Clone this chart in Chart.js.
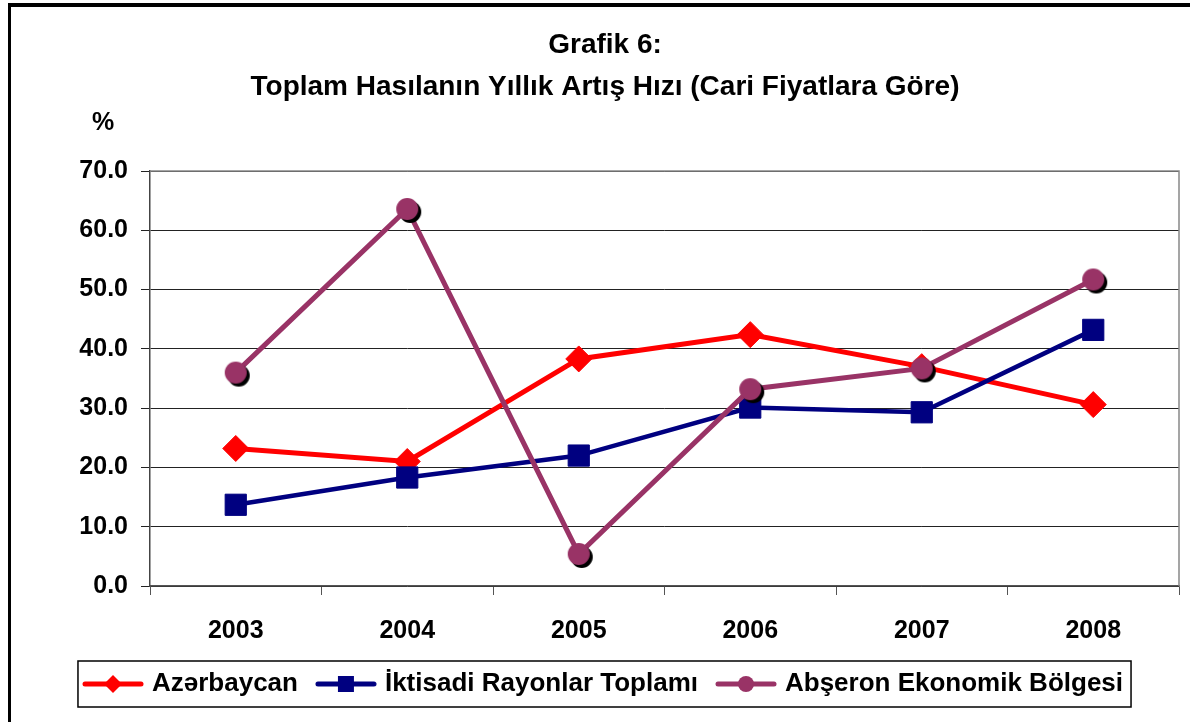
<!DOCTYPE html>
<html>
<head>
<meta charset="utf-8">
<script src="https://cdn.jsdelivr.net/npm/chart.js@4/dist/chart.umd.min.js"></script>
<style>
  body { margin: 0; background: #fff; overflow: hidden; }
  #wrap { position: relative; width: 1190px; height: 722px; overflow: hidden; }
  #frame { position: absolute; left: 8px; top: 3px; right: -20px; bottom: -20px;
           border-left: 3px solid #000; border-top: 4px solid #000; pointer-events: none; }
  #myChart { position: absolute; left: 0; top: 0; }
</style>
</head>
<body>
<div id="wrap">
  <!-- canvas a little wider than the page: the x scale keeps ~16px free on its right -->
  <canvas id="myChart" width="1195" height="722"></canvas>
  <div id="frame"></div>
</div>
<script>
// Data
var years = ['2003', '2004', '2005', '2006', '2007', '2008'];
var azerbaycan = [23.2, 21.0, 38.3, 42.4, 37.0, 30.6];
var iktisadi = [13.7, 18.3, 22.0, 30.1, 29.3, 43.2];
var abseron = [36.0, 63.6, 5.4, 33.2, 36.7, 51.7];
var seriesNames = ['Azərbaycan', 'İktisadi Rayonlar Toplamı', 'Abşeron Ekonomik Bölgesi'];
var titleLines = ['Grafik 6:', 'Toplam Hasılanın Yıllık Artış Hızı (Cari Fiyatlara Göre)'];

var FONT = "'Liberation Sans', Arial, sans-serif";
var RED = '#ff0000', NAVY = '#000080', PURPLE = '#993366';

// purple circle with black drop shadow, used as point image
function shadowCircle() {
  var c = document.createElement('canvas');
  c.width = 32; c.height = 32;
  var g = c.getContext('2d');
  g.fillStyle = '#000';
  g.beginPath(); g.arc(19, 19, 11, 0, Math.PI * 2); g.fill();
  g.fillStyle = PURPLE;
  g.beginPath(); g.arc(16, 16, 11, 0, Math.PI * 2); g.fill();
  return c;
}

// legend symbol: short line with the marker in the middle
function legendSymbol(color, shape) {
  var c = document.createElement('canvas');
  c.width = 62; c.height = 26;
  var g = c.getContext('2d');
  g.strokeStyle = color; g.fillStyle = color;
  g.lineWidth = 5; g.lineCap = 'round';
  g.beginPath(); g.moveTo(3, 13); g.lineTo(59, 13); g.stroke();
  g.beginPath();
  if (shape === 'diamond') {
    g.moveTo(31, 4); g.lineTo(40, 13); g.lineTo(31, 22); g.lineTo(22, 13); g.closePath();
  } else if (shape === 'square') {
    g.rect(23, 5, 16, 16);
  } else {
    g.arc(31, 13, 8, 0, Math.PI * 2);
  }
  g.fill();
  return c;
}

var legendImgs = [
  legendSymbol(RED, 'diamond'),
  legendSymbol(NAVY, 'square'),
  legendSymbol(PURPLE, 'circle')
];

// plot frame (top/right), "%" label and legend box
var extras = {
  id: 'extras',
  beforeDatasetsDraw: function (chart) {
    var a = chart.chartArea, ctx = chart.ctx;
    ctx.save();
    ctx.strokeStyle = '#888';
    ctx.lineWidth = 1.5;
    ctx.beginPath();
    ctx.moveTo(a.left, a.top); ctx.lineTo(a.right, a.top); ctx.lineTo(a.right, a.bottom);
    ctx.stroke();
    ctx.restore();
  },
  afterDraw: function (chart) {
    var ctx = chart.ctx;
    ctx.save();
    ctx.fillStyle = '#000';
    ctx.font = 'bold 25px ' + FONT;
    ctx.textAlign = 'center';
    ctx.textBaseline = 'middle';
    ctx.fillText('%', 103, 123);

    var boxes = chart.legend.legendHitBoxes;
    if (boxes && boxes.length) {
      var left = boxes[0].left, right = 0, cy = boxes[0].top + boxes[0].height / 2;
      boxes.forEach(function (b) {
        left = Math.min(left, b.left);
        right = Math.max(right, b.left + b.width);
      });
      ctx.strokeStyle = '#000';
      ctx.lineWidth = 1.5;
      ctx.strokeRect(left - 9, cy - 23, right - left + 17, 46);
    }
    ctx.restore();
  }
};

var ctx = document.getElementById('myChart').getContext('2d');

var myChart = new Chart(ctx, {
  type: 'line',
  data: {
    labels: years,
    datasets: [{
      label: seriesNames[0],
      data: azerbaycan,
      borderColor: RED,
      backgroundColor: RED,
      borderWidth: 5,
      pointStyle: 'rectRot',
      pointRadius: 13,
      pointBorderWidth: 1,
      order: 2
    }, {
      label: seriesNames[1],
      data: iktisadi,
      borderColor: NAVY,
      backgroundColor: NAVY,
      borderWidth: 4.5,
      pointStyle: 'rect',
      pointRadius: 15,
      pointBorderWidth: 1,
      order: 1
    }, {
      label: seriesNames[2],
      data: abseron,
      borderColor: PURPLE,
      backgroundColor: PURPLE,
      borderWidth: 5,
      pointStyle: shadowCircle(),
      pointRadius: 11,
      order: 0
    }]
  },
  options: {
    responsive: false,
    animation: false,
    events: [],
    layout: { padding: { left: 21, right: 6, top: 0, bottom: 15 } },
    plugins: {
      tooltip: { enabled: false },
      title: {
        display: true,
        text: titleLines,
        color: '#000',
        font: { family: FONT, size: 28, weight: 'bold', lineHeight: 1.5 },
        padding: { top: 24, bottom: 63 }
      },
      legend: {
        position: 'bottom',
        labels: {
          color: '#000',
          font: { family: FONT, size: 26, weight: 'bold' },
          usePointStyle: true,
          pointStyleWidth: 52,
          padding: 22,
          generateLabels: function (chart) {
            return seriesNames.map(function (name, i) {
              return {
                text: name,
                pointStyle: legendImgs[i],
                datasetIndex: i,
                fontColor: '#000',
                hidden: false,
                lineWidth: 0
              };
            });
          }
        }
      }
    },
    scales: {
      x: {
        offset: true,
        afterFit: function (scale) {
          scale.height = 63;
          scale.paddingLeft = 0;
          scale.paddingRight = 0;
        },
        grid: { offset: true, drawOnChartArea: false, drawTicks: true, tickLength: 9, color: '#555' },
        border: { color: '#555', width: 1.5 },
        ticks: { color: '#000', font: { family: FONT, size: 25, weight: 'bold' }, padding: 21 }
      },
      y: {
        min: 0,
        max: 70,
        afterFit: function (scale) { scale.width = 129; },
        grid: { color: '#222', lineWidth: 1, tickLength: 9 },
        border: { color: '#444', width: 1.5 },
        ticks: {
          stepSize: 10,
          color: '#000',
          padding: 13,
          font: { family: FONT, size: 25, weight: 'bold' },
          callback: function (v) { return v.toFixed(1); }
        }
      }
    }
  },
  plugins: [extras]
});
</script>
</body>
</html>
